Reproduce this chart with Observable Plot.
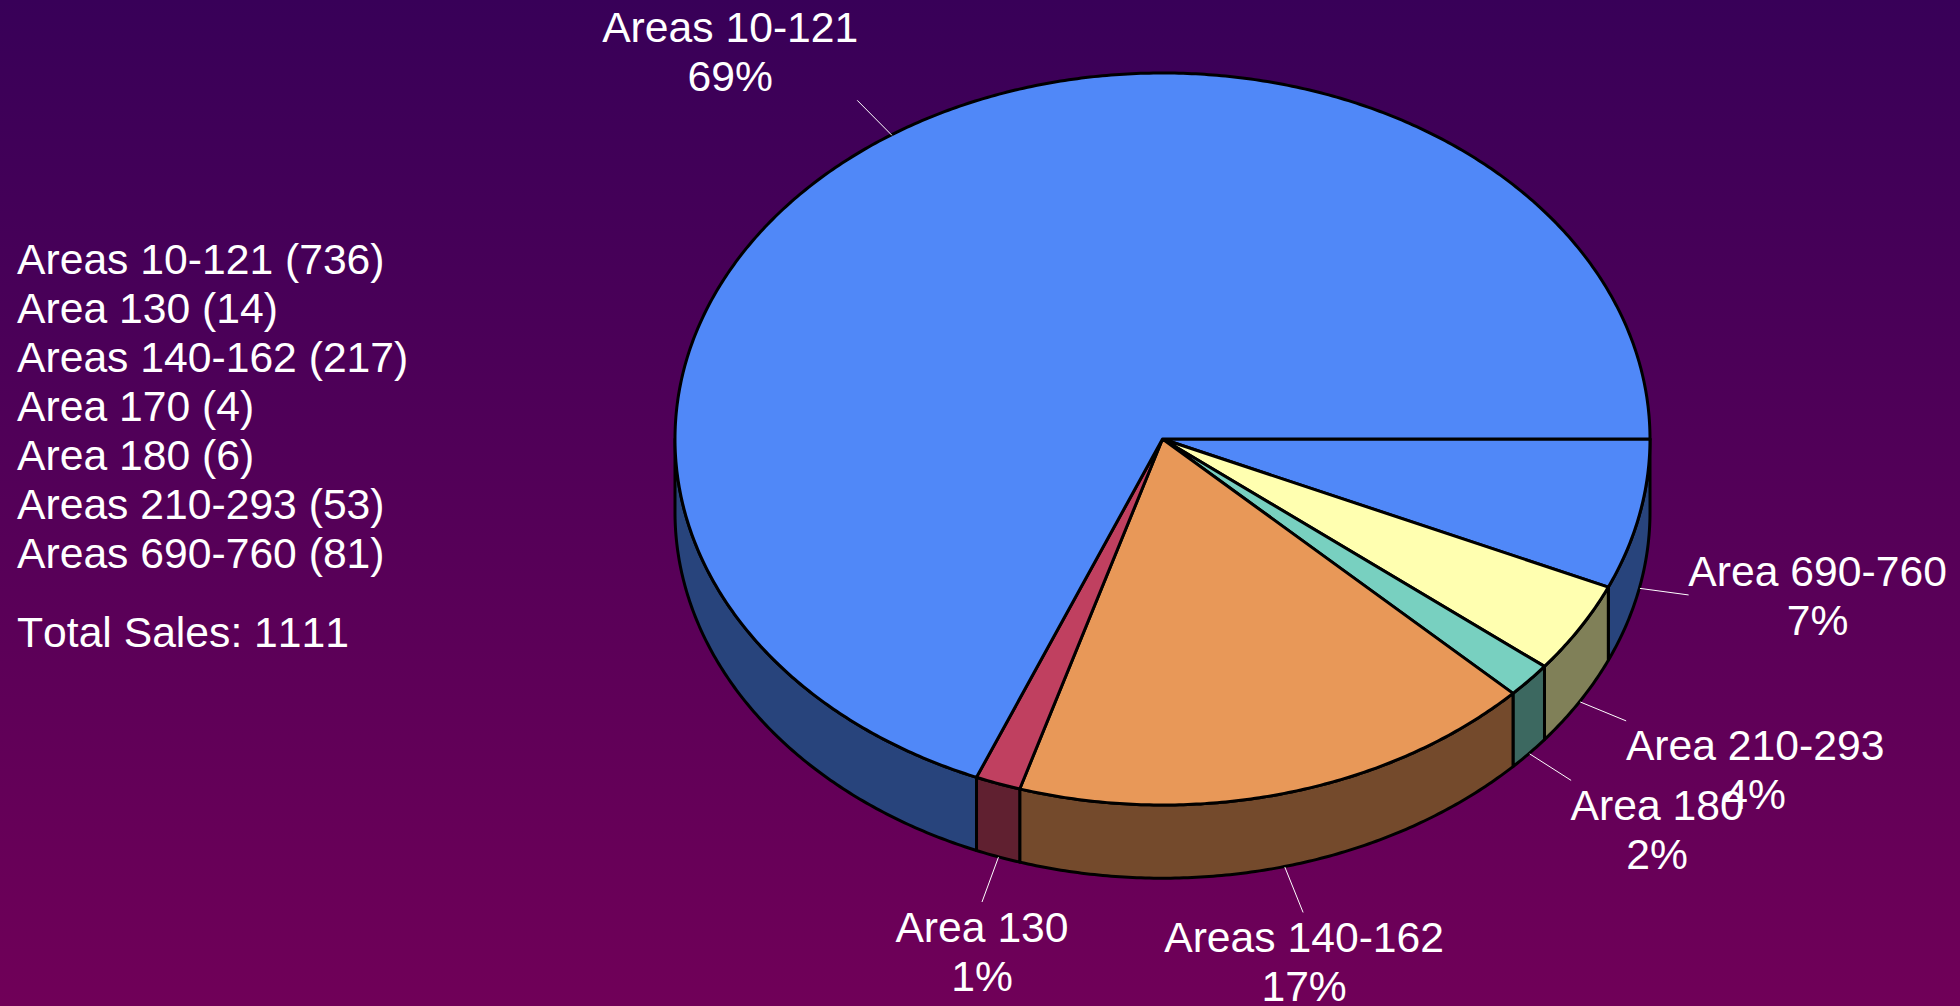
<!DOCTYPE html>
<html>
<head>
<meta charset="utf-8">
<script src="https://cdn.jsdelivr.net/npm/d3@7"></script>
<script src="https://cdn.jsdelivr.net/npm/@observablehq/plot@0.6"></script>
<style>
html,body{margin:0;padding:0;background:#380058;overflow:hidden}
svg{display:block}
</style>
</head>
<body>
<div id="chart"></div>
<script>
// Slices, clockwise from the east point of the pie (shares, in %)
const sliceNames = ["Area 690-760", "Area 210-293", "Area 180", "Areas 140-162", "Area 130", "Areas 10-121"];
const sliceShares = [6.63, 4.04, 1.56, 17.5, 1.5, 68.77];
const slicePercents = ["7%", "4%", "2%", "17%", "1%", "69%"];
const topColors = ["#5088f8", "#ffffb0", "#78d0c0", "#e89858", "#c04060", "#5088f8"];
const wallColors = ["#28447c", "#808058", "#3c6860", "#744a2c", "#602030", "#28447c"];

// Text block at the left
const legendLines = ["Areas 10-121 (736)", "Area 130 (14)", "Areas 140-162 (217)", "Area 170 (4)", "Area 180 (6)", "Areas 210-293 (53)", "Areas 690-760 (81)"];
const totalLine = "Total Sales: 1111";

// Style and layout parameters
const depth = 0.2;                                       // pie thickness in y units
const leaderScaleX = [1.102, 1.11, 1.113, 1.15, 1.10, 1.128];
const leaderScaleY = [1.087, 1.10, 1.11, 1.128, 1.13, 1.115];
const labelDx = [129, 129, 86, 1, 0, -127];
const labelBaselineDy = [-9, 39.5, 39.5, 40, 40, -58];
const fontSize = 42.67;
const lineHeight = 49 / fontSize;
const font = "Liberation Sans, Arial, sans-serif";
const firstLine = 0.71 * fontSize * lineHeight;          // anchor to first baseline, multi-line text
const singleLine = 0.71 * fontSize;                      // same, single-line text

const rad = d => d * Math.PI / 180;
const ends = d3.cumsum(sliceShares, d => d * 3.6);
const slices = sliceNames.map((name, i) => {
  const a0 = i ? ends[i - 1] : 0, a1 = ends[i];
  const mid = (a0 + a1) / 2;
  const cx = Math.cos(rad(mid)), sy = Math.sin(rad(mid));
  const drop = sy > 0 ? depth : 0;
  return {
    name, a0, a1, mid,
    rimX: cx, rimY: sy + drop,
    endX: cx * leaderScaleX[i], endY: sy * leaderScaleY[i] + drop,
    label: `${name}\n${slicePercents[i]}`,
    dx: labelDx[i], dy: labelBaselineDy[i] - firstLine,
    top: topColors[i], wall: wallColors[i]
  };
});
const arc = (a0, a1) => d3.range(a0, a1, 0.5).concat(a1).map(a => ({x: Math.cos(rad(a)), y: Math.sin(rad(a))}));

const stroke = {stroke: "black", strokeWidth: 3, strokeLinejoin: "round"};

// Side walls: only the part of each slice facing the viewer (0°–180°)
const wallMarks = slices.filter(s => s.a0 < 180).map(s =>
  Plot.area(arc(s.a0, Math.min(s.a1, 180)), {
    x1: "x", x2: "x", y1: "y", y2: d => d.y + depth, fill: s.wall, ...stroke
  }));

// Top surface wedges
const topMarks = slices.map(s =>
  Plot.area(arc(s.a0, s.a1), {
    x1: () => 0, y1: () => 0, x2: "x", y2: "y", fill: s.top, ...stroke
  }));

// Slice labels hang off the leader ends
const labelMarks = slices.map(s =>
  Plot.text([s], {
    x: "endX", y: "endY", text: "label", dx: s.dx, dy: s.dy,
    lineAnchor: "top", textAnchor: "middle", lineHeight,
    fill: "white", fontSize, fontFamily: font
  }));

const chart = Plot.plot({
  width: 1960,
  height: 1006,
  margin: 0,
  x: {domain: [-1, 1], range: [675, 1650], axis: null},
  y: {domain: [-1, 1], range: [73, 805], axis: null},
  style: {background: "linear-gradient(to bottom, #380058, #700058)", fontFamily: font, fontKerning: "none"},
  marks: [
    ...wallMarks,
    ...topMarks,
    Plot.link(slices, {x1: "rimX", y1: "rimY", x2: "endX", y2: "endY", stroke: "white", strokeWidth: 1}),
    ...labelMarks,
    Plot.text([legendLines.join("\n")], {
      text: d => d, frameAnchor: "top-left", lineAnchor: "top", dx: 16.5, dy: 273.3 - firstLine,
      lineHeight, fill: "white", fontSize, fontFamily: font
    }),
    Plot.text([totalLine], {
      text: d => d, frameAnchor: "top-left", lineAnchor: "top", dx: 16.5, dy: 646 - singleLine,
      fill: "white", fontSize, fontFamily: font
    })
  ]
});
document.getElementById("chart").append(chart);
</script>
</body>
</html>
